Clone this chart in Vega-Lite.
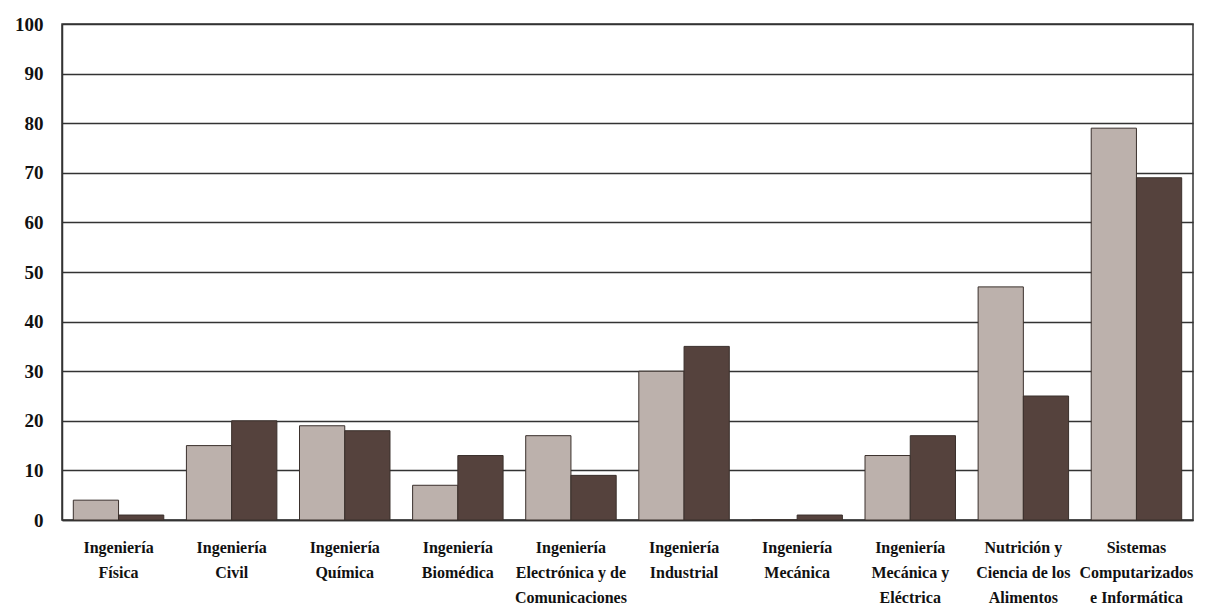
{
  "$schema": "https://vega.github.io/schema/vega-lite/v6.json",
  "autosize": "none",
  "width": 1131,
  "height": 496,
  "padding": {"left": 62, "top": 24, "right": 12, "bottom": 94},
  "background": "white",
  "config": {
    "view": {"stroke": "#333", "strokeWidth": 1.5},
    "font": "Liberation Serif"
  },
  "data": {
    "values": [
      {"carrera": "Ingeniería|Física", "serie": "A", "valor": 4},
      {"carrera": "Ingeniería|Física", "serie": "B", "valor": 1},
      {"carrera": "Ingeniería|Civil", "serie": "A", "valor": 15},
      {"carrera": "Ingeniería|Civil", "serie": "B", "valor": 20},
      {"carrera": "Ingeniería|Química", "serie": "A", "valor": 19},
      {"carrera": "Ingeniería|Química", "serie": "B", "valor": 18},
      {"carrera": "Ingeniería|Biomédica", "serie": "A", "valor": 7},
      {"carrera": "Ingeniería|Biomédica", "serie": "B", "valor": 13},
      {"carrera": "Ingeniería|Electrónica y de|Comunicaciones", "serie": "A", "valor": 17},
      {"carrera": "Ingeniería|Electrónica y de|Comunicaciones", "serie": "B", "valor": 9},
      {"carrera": "Ingeniería|Industrial", "serie": "A", "valor": 30},
      {"carrera": "Ingeniería|Industrial", "serie": "B", "valor": 35},
      {"carrera": "Ingeniería|Mecánica", "serie": "A", "valor": 0},
      {"carrera": "Ingeniería|Mecánica", "serie": "B", "valor": 1},
      {"carrera": "Ingeniería|Mecánica y|Eléctrica", "serie": "A", "valor": 13},
      {"carrera": "Ingeniería|Mecánica y|Eléctrica", "serie": "B", "valor": 17},
      {"carrera": "Nutrición y|Ciencia de los|Alimentos", "serie": "A", "valor": 47},
      {"carrera": "Nutrición y|Ciencia de los|Alimentos", "serie": "B", "valor": 25},
      {"carrera": "Sistemas|Computarizados|e Informática", "serie": "A", "valor": 79},
      {"carrera": "Sistemas|Computarizados|e Informática", "serie": "B", "valor": 69}
    ]
  },
  "mark": {"type": "bar", "stroke": "#3a302c", "strokeWidth": 1},
  "encoding": {
    "x": {
      "field": "carrera",
      "type": "nominal",
      "sort": null,
      "scale": {"paddingInner": 0.2, "paddingOuter": 0.1},
      "axis": {
        "title": null,
        "labelAngle": 0,
        "labelExpr": "split(datum.label, '|')",
        "labelFont": "Liberation Serif",
        "labelFontWeight": "bold",
        "labelFontSize": 16,
        "labelLineHeight": 25,
        "labelColor": "#111",
        "labelPadding": 19,
        "ticks": false,
        "domainColor": "#333",
        "domainWidth": 1.5,
        "labelLimit": 200
      }
    },
    "xOffset": {"field": "serie", "scale": {"paddingInner": 0}},
    "y": {
      "field": "valor",
      "type": "quantitative",
      "scale": {"domain": [0, 100], "nice": false},
      "axis": {
        "title": null,
        "values": [0, 10, 20, 30, 40, 50, 60, 70, 80, 90, 100],
        "labelFont": "Liberation Serif",
        "labelFontWeight": "bold",
        "labelFontSize": 19,
        "labelColor": "#111",
        "labelPadding": 19,
        "ticks": false,
        "grid": true,
        "gridColor": "#333",
        "gridWidth": 1.3,
        "domainColor": "#333",
        "domainWidth": 1.5
      }
    },
    "color": {
      "field": "serie",
      "type": "nominal",
      "scale": {"domain": ["A", "B"], "range": ["#bcb1ac", "#55423d"]},
      "legend": null
    }
  }
}
